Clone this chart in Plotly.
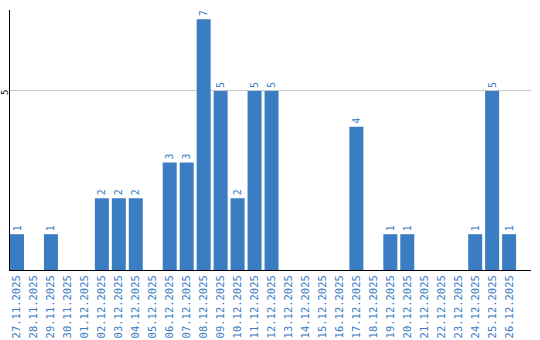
import plotly.graph_objects as go

dates = ["27.11.2025","28.11.2025","29.11.2025","30.11.2025","01.12.2025","02.12.2025",
         "03.12.2025","04.12.2025","05.12.2025","06.12.2025","07.12.2025","08.12.2025",
         "09.12.2025","10.12.2025","11.12.2025","12.12.2025","13.12.2025","14.12.2025",
         "15.12.2025","16.12.2025","17.12.2025","18.12.2025","19.12.2025","20.12.2025",
         "21.12.2025","22.12.2025","23.12.2025","24.12.2025","25.12.2025","26.12.2025"]
values = [1,0,1,0,0,2,2,2,0,3,3,7,5,2,5,5,0,0,0,0,4,0,1,1,0,0,0,1,5,1]
y_ticks = [5]

blue = "#3b7dc3"
labels = [str(v) if v > 0 else "" for v in values]

fig = go.Figure(go.Bar(
    x=dates, y=values, marker=dict(color=blue, line=dict(width=0)),
    text=labels, textposition="outside", textangle=-90, cliponaxis=False,
    textfont=dict(family="DejaVu Sans Mono", size=10, color=blue),
))
for t in y_ticks:
    fig.add_annotation(x=0, xref="paper", y=t, yref="y", text=str(t), showarrow=False,
                       xanchor="center", yanchor="middle", xshift=-5, yshift=-2,
                       textangle=-90, font=dict(family="DejaVu Sans Mono", size=9, color="black"))
fig.update_layout(
    width=540, height=340, margin=dict(l=10, r=9, t=10, b=70),
    plot_bgcolor="white", paper_bgcolor="white", showlegend=False,
    bargap=0.175,
    xaxis=dict(type="category", range=[-0.4125, 30.29], tickangle=-90, automargin=False,
               tickfont=dict(family="DejaVu Sans Mono", size=10.5, color=blue),
               showline=True, linecolor="black", linewidth=1, showgrid=False,
               ticks="", ticklen=0),
    yaxis=dict(range=[0, 7.26], tickvals=y_ticks, showticklabels=False, automargin=False,
               showline=True, linecolor="black", linewidth=1,
               showgrid=True, gridcolor="#c8c8c8", gridwidth=1, zeroline=False,
               ticks="", ticklen=0),
    uniformtext=dict(minsize=8, mode="show"),
)
fig.write_html("out.html")
